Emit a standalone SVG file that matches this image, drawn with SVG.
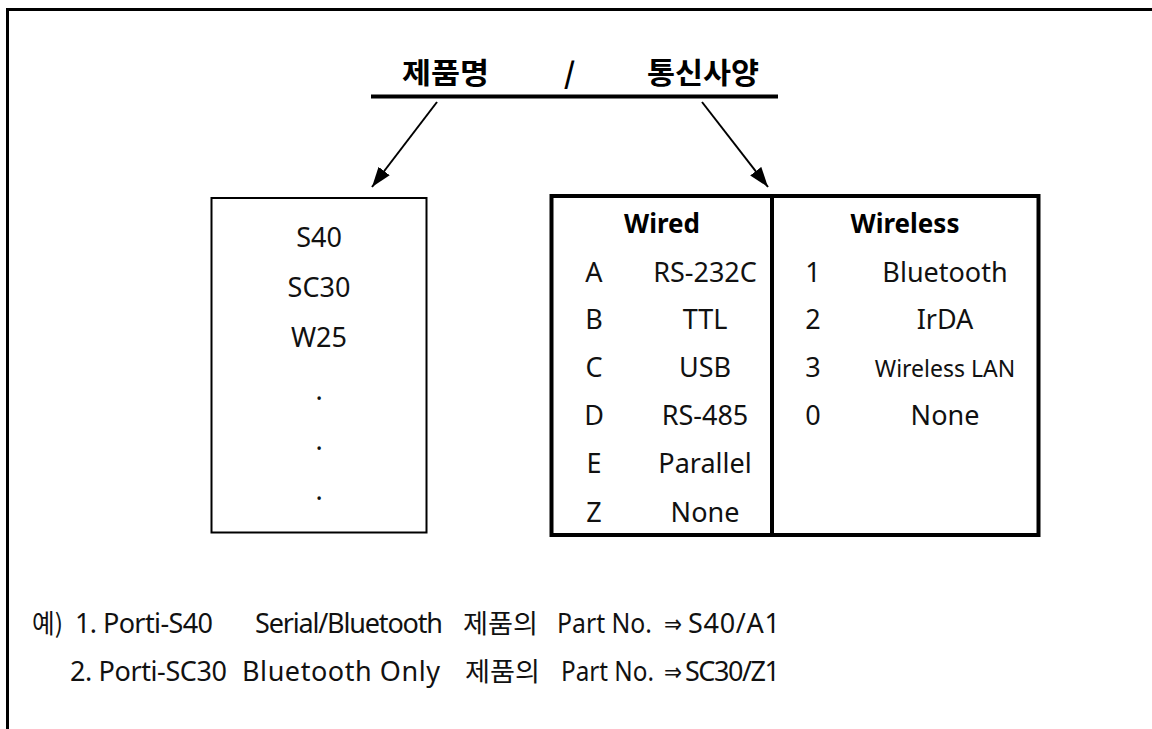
<svg xmlns="http://www.w3.org/2000/svg" width="1152" height="729" viewBox="0 0 1152 729">
<defs>
<marker id="arrow" markerUnits="userSpaceOnUse" markerWidth="22" markerHeight="16" refX="20" refY="7" orient="auto">
<path d="M0,0 L20,7 L0,14 z" fill="#000"/>
</marker>
</defs>
<style>
.t{font-family:"Noto Sans","Noto Sans CJK KR",sans-serif;font-size:27px;fill:#111;}
.m{text-anchor:middle;}
.b{font-weight:bold;font-size:26px;fill:#000;}
.h{font-family:"Noto Sans CJK KR","Noto Sans",sans-serif;font-size:29px;font-weight:bold;fill:#000;}
.k{font-family:"Noto Sans CJK KR","Noto Sans",sans-serif;font-size:26px;}
.ar{font-family:"DejaVu Sans",sans-serif;font-size:26px;}
.conn{stroke:#000;stroke-width:2;fill:none;marker-end:url(#arrow);}
</style>
<rect width="1152" height="729" fill="#fff"/>
<g id="frame">
<path d="M7.5,729 V9.5 H1152" fill="none" stroke="#000" stroke-width="3"/>
</g>
<g id="header">
<text class="h" x="402" y="84" textLength="87" lengthAdjust="spacingAndGlyphs">제품명</text>
<text class="h" x="564" y="84">/</text>
<text class="h" x="647" y="84" textLength="112" lengthAdjust="spacingAndGlyphs">통신사양</text>
<line x1="371" y1="96.5" x2="778" y2="96.5" stroke="#000" stroke-width="4"/>
</g>
<g id="connectors">
<line class="conn" x1="437" y1="102" x2="372" y2="187"/>
<line class="conn" x1="702" y1="102" x2="768" y2="187"/>
</g>
<g id="node-products">
<rect x="211.5" y="198" width="215" height="334.5" fill="none" stroke="#000" stroke-width="2"/>
<text class="t m" x="319" y="247">S40</text>
<text class="t m" x="319" y="297">SC30</text>
<text class="t m" x="319" y="347">W25</text>
<text class="t m" x="319" y="400">.</text>
<text class="t m" x="319" y="450">.</text>
<text class="t m" x="319" y="500">.</text>
</g>
<g id="node-spec">
<rect x="551.5" y="196" width="487" height="339" fill="none" stroke="#000" stroke-width="4"/>
<line x1="772" y1="196" x2="772" y2="535" stroke="#000" stroke-width="4"/>
<text class="t m b" x="662" y="233">Wired</text>
<text class="t m b" x="905" y="233">Wireless</text>
<text class="t m" x="594" y="282">A</text>
<text class="t m" x="705" y="282">RS-232C</text>
<text class="t m" x="594" y="329">B</text>
<text class="t m" x="705" y="329">TTL</text>
<text class="t m" x="594" y="377">C</text>
<text class="t m" x="705" y="377">USB</text>
<text class="t m" x="594" y="425">D</text>
<text class="t m" x="705" y="425">RS-485</text>
<text class="t m" x="594" y="473">E</text>
<text class="t m" x="705" y="473">Parallel</text>
<text class="t m" x="594" y="522">Z</text>
<text class="t m" x="705" y="522">None</text>
<text class="t m" x="813" y="282">1</text>
<text class="t m" x="945" y="282">Bluetooth</text>
<text class="t m" x="813" y="329">2</text>
<text class="t m" x="945" y="329">IrDA</text>
<text class="t m" x="813" y="377">3</text>
<text class="t m" x="945" y="377" style="font-size:23px">Wireless LAN</text>
<text class="t m" x="813" y="425">0</text>
<text class="t m" x="945" y="425">None</text>
</g>
<g id="example">
<text class="t" y="633"><tspan class="k" x="32" textLength="31" lengthAdjust="spacingAndGlyphs">예)</tspan><tspan x="75" textLength="138">1. Porti-S40</tspan><tspan x="255" textLength="188">Serial/Bluetooth</tspan><tspan class="k" x="463" textLength="75" lengthAdjust="spacingAndGlyphs">제품의</tspan><tspan x="557" textLength="95" lengthAdjust="spacingAndGlyphs">Part No.</tspan><tspan class="ar" x="664" textLength="18" lengthAdjust="spacingAndGlyphs">⇒</tspan><tspan x="688" textLength="92">S40/A1</tspan></text>
<text class="t" y="681"><tspan x="70" textLength="157">2. Porti-SC30</tspan><tspan x="242" textLength="198">Bluetooth Only</tspan><tspan class="k" x="465" textLength="75" lengthAdjust="spacingAndGlyphs">제품의</tspan><tspan x="561" textLength="93" lengthAdjust="spacingAndGlyphs">Part No.</tspan><tspan class="ar" x="664" textLength="18" lengthAdjust="spacingAndGlyphs">⇒</tspan><tspan x="685" textLength="95">SC30/Z1</tspan></text>
</g>
</svg>
